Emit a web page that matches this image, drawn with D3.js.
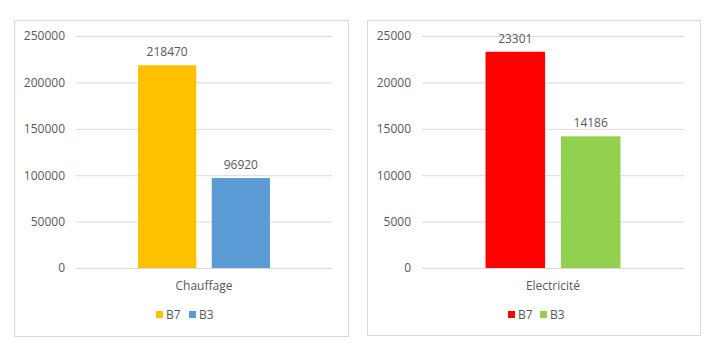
<!DOCTYPE html>
<html>
<head>
<meta charset="utf-8">
<script src="https://cdn.jsdelivr.net/npm/d3@7"></script>
<style>
  body { margin: 0; background: #fff; }
  text { font-family: "Open Sans", "Liberation Sans", sans-serif; fill: #595959; }
</style>
</head>
<body>
<div id="chart"></div>
<script>
// data
const series = ["B7", "B3"];
const chauffageValues = [218470, 96920];
const electriciteValues = [23301, 14186];
const chauffageTicks = [0, 50000, 100000, 150000, 200000, 250000];
const electriciteTicks = [0, 5000, 10000, 15000, 20000, 25000];

var svg = d3.select("#chart")
    .append("svg")
    .attr("width", 713)
    .attr("height", 354);

function drawChart(cfg) {
    var g = svg.append("g");

    // outer frame
    g.append("rect")
        .attr("x", cfg.box[0] + 0.5).attr("y", cfg.box[1] + 0.5)
        .attr("width", cfg.box[2]).attr("height", cfg.box[3])
        .attr("fill", "#fff")
        .attr("stroke", "#d9d9d9");

    var left = cfg.plot[0], right = cfg.plot[1], top = cfg.plot[2], bottom = cfg.plot[3];

    var y = d3.scaleLinear()
        .domain([0, d3.max(cfg.ticks)])
        .range([bottom, top]);

    var x0 = d3.scaleBand()
        .domain([cfg.category])
        .range([left, right])
        .padding(0.32);

    var x1 = d3.scaleBand()
        .domain(series)
        .range([0, x0.bandwidth()])
        .paddingInner(0.21);

    // gridlines + y labels
    var yAxis = g.append("g")
        .attr("transform", "translate(" + left + ",0)")
        .call(d3.axisLeft(y)
            .tickValues(cfg.ticks)
            .tickSize(-(right - left))
            .tickPadding(11)
            .tickFormat(d3.format("d")));
    yAxis.select(".domain").remove();
    yAxis.selectAll("line").attr("stroke", "#d9d9d9");
    yAxis.selectAll("text")
        .attr("fill", "#595959")
        .style("font-size", "12px")
        .style("font-family", "'Open Sans', sans-serif");

    // bars
    var data = series.map(function(s, i) { return {key: s, value: cfg.values[i], color: cfg.colors[i]}; });

    g.selectAll("rect.bar")
        .data(data)
        .enter()
        .append("rect")
            .attr("class", "bar")
            .attr("x", function(d) { return x0(cfg.category) + x1(d.key); })
            .attr("y", function(d) { return y(d.value); })
            .attr("width", x1.bandwidth())
            .attr("height", function(d) { return bottom - y(d.value); })
            .attr("fill", function(d) { return d.color; });

    // value labels
    g.selectAll("text.val")
        .data(data)
        .enter()
        .append("text")
            .attr("class", "val")
            .attr("x", function(d) { return x0(cfg.category) + x1(d.key) + x1.bandwidth() / 2; })
            .attr("y", function(d) { return y(d.value) - 9; })
            .attr("text-anchor", "middle")
            .style("font-size", "12px")
            .text(function(d) { return d.value; });

    // category label
    g.append("text")
        .attr("x", x0(cfg.category) + x0.bandwidth() / 2)
        .attr("y", bottom + 22)
        .attr("text-anchor", "middle")
        .style("font-size", "12px")
        .text(cfg.category);

    // legend
    var legend = g.append("g")
        .attr("transform", "translate(" + cfg.legendX + "," + (bottom + 47) + ")");
    var item = legend.selectAll("g")
        .data(data)
        .enter()
        .append("g")
            .attr("transform", function(d, i) { return "translate(" + (i * cfg.legendStep) + ",0)"; });
    item.append("rect")
        .attr("x", 0).attr("y", -4)
        .attr("width", 7).attr("height", 7)
        .attr("fill", function(d) { return d.color; });
    item.append("text")
        .attr("x", 10).attr("y", 4)
        .style("font-size", "12px")
        .text(function(d) { return d.key; });
}

drawChart({
    box: [14, 20, 334, 316],
    plot: [76, 332, 36, 268],
    category: "Chauffage",
    values: chauffageValues,
    ticks: chauffageTicks,
    colors: ["#FFC000", "#5B9BD5"],
    legendX: 156,
    legendStep: 33
});

drawChart({
    box: [367, 20, 333, 315],
    plot: [422, 684, 36, 268],
    category: "Electricité",
    values: electriciteValues,
    ticks: electriciteTicks,
    colors: ["#FF0000", "#92D050"],
    legendX: 508,
    legendStep: 32
});
</script>
</body>
</html>
